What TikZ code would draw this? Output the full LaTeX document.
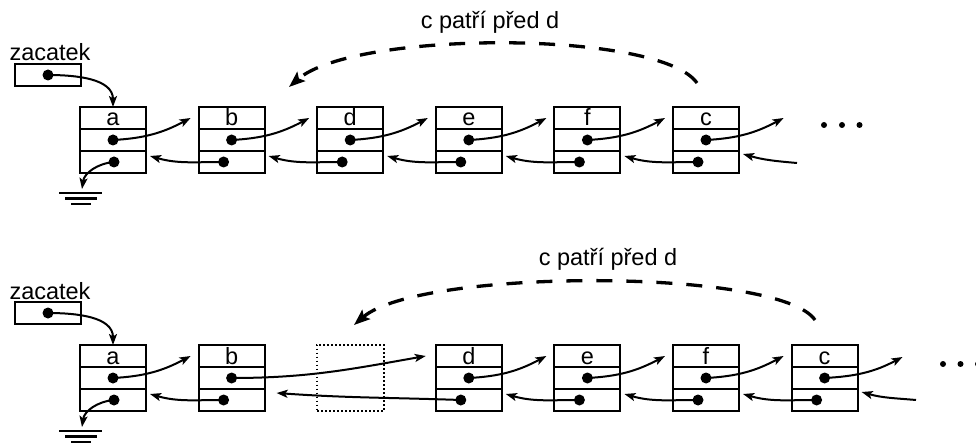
\documentclass[tikz,border=0pt]{standalone}
\usepackage{fontspec}
\setmainfont{Liberation Sans}
\usetikzlibrary{arrows.meta}

\tikzset{
  rule/.style={line width=2.1pt},
  cell/.style={draw, line width=2.1pt, minimum width=66pt, minimum height=66pt,
               inner sep=0pt, outer sep=0pt},
  hole/.style={draw, line width=2pt, dash pattern=on 1.8pt off 2.2pt,
               minimum width=67pt, minimum height=66pt, inner sep=0pt, outer sep=0pt},
  headbox/.style={draw, line width=2.1pt, minimum width=66pt, minimum height=22pt,
               inner sep=0pt, outer sep=0pt},
  lbl/.style={anchor=base, inner sep=0pt, font=\fontsize{23.5}{28}\selectfont},
  ptr/.style={circle, fill=black, minimum size=11pt, inner sep=0pt, outer sep=0pt},
  etc/.style={circle, fill=black, minimum size=6pt, inner sep=0pt},
  link/.style={line width=2pt, -{Stealth[length=11pt,width=8pt,inset=2.5pt]}},
  hint/.style={line width=3.3pt, dash pattern=on 16pt off 14pt,
               -{Stealth[length=16pt,width=12pt,inset=3pt]}},
  earth/.style={line width=2.1pt},
}

% one list element: name, left x, top y, label, x offset of the back pointer
\newcommand\listcell[5]{%
  \node[cell] (#1) at (#2+33,#3+33) {};
  \draw[rule] ([yshift=-22pt]#1.north west) -- ([yshift=-22pt]#1.north east);
  \draw[rule] ([yshift=22pt]#1.south west) -- ([yshift=22pt]#1.south east);
  \node[lbl] (#1-l) at (#2+33,#3+19) {#4};
  \node[ptr] (#1-n) at (#2+33,#3+33) {};
  \node[ptr] (#1-p) at (#2+#5,#3+55) {};
}

% forward link from a cell to the next one, backward link to the previous one
\newcommand\fwd[2]{\draw[link] (#1-n.center) to[out=3,in=208] ([xshift=-8pt,yshift=-11pt]#2.north west);}
\newcommand\bwd[2]{\draw[link] (#1-p.center) to[out=180,in=-16] ([xshift=4pt,yshift=-49pt]#2.north east);}

\begin{document}
\begin{tikzpicture}[x=1pt,y=-1pt]
  \useasboundingbox (0,0) rectangle (976,446);

  % ---------------- upper list ----------------
  \node[lbl] (zt) at (50,61) {zacatek};
  \node[headbox] (zb) at (48,75) {};
  \node[ptr] (zp) at (48,75) {};

  \listcell{ta}{80}{107}{a}{34}
  \listcell{tb}{198.6}{107}{b}{25}
  \listcell{td}{317.2}{107}{d}{25}
  \listcell{te}{435.8}{107}{e}{25}
  \listcell{tf}{554.4}{107}{f}{25}
  \listcell{tc}{673}{107}{c}{25}

  \draw[link] (zp.center) to[out=0,in=90] (ta.north);

  \fwd{ta}{tb} \fwd{tb}{td} \fwd{td}{te} \fwd{te}{tf} \fwd{tf}{tc}
  \coordinate (tnext) at (783.6,118);
  \draw[link] (tc-n.center) to[out=3,in=208] (tnext);

  \bwd{tb}{ta} \bwd{td}{tb} \bwd{te}{td} \bwd{tf}{te} \bwd{tc}{tf}
  \coordinate (tprev) at (797,163);
  \draw[link] (tprev) to[out=175,in=-16] ([xshift=4pt,yshift=-47pt]tc.north east);

  \coordinate (tg) at (82,189);
  \draw[link] (ta-p.center) to[out=185,in=82] (tg);
  \draw[earth] (59,193) -- (102,193);
  \draw[earth] (65,198.5) -- (97,198.5);
  \draw[earth] (71,204) -- (91,204);

  \node[etc] (td1) at (824,125) {};
  \node[etc] (td2) at (842,125) {};
  \node[etc] (td3) at (859.5,125) {};

  \coordinate (th1) at (697,83);
  \coordinate (th2) at (289,87);
  \draw[hint] (th1) .. controls (660,30) and (355,30) .. (th2);
  \node[lbl] (tt) at (490,29) {c patří před d};

  % ---------------- lower list ----------------
  \node[lbl] (zt2) at (50,299) {zacatek};
  \node[headbox] (zb2) at (48,313) {};
  \node[ptr] (zp2) at (48,313) {};

  \listcell{ba}{80}{345}{a}{34}
  \listcell{bb}{198.6}{345}{b}{25}
  \node[hole] (bh) at (350.5,377.5) {};
  \listcell{bd}{435.8}{345}{d}{25}
  \listcell{be}{554.4}{345}{e}{25}
  \listcell{bf}{673}{345}{f}{25}
  \listcell{bc}{791.6}{345}{c}{25}

  \draw[link] (zp2.center) to[out=0,in=90] (ba.north);

  \fwd{ba}{bb}
  \draw[link] (bb-n.center) to[out=0,in=190] ([xshift=-10pt,yshift=-11pt]bd.north west);
  \fwd{bd}{be} \fwd{be}{bf} \fwd{bf}{bc}
  \coordinate (bnext) at (902.5,357);
  \draw[link] (bc-n.center) to[out=3,in=208] (bnext);

  \bwd{bb}{ba}
  \draw[link] (bd-p.center) to[out=178,in=-4] ([xshift=12pt,yshift=-48pt]bb.north east);
  \bwd{be}{bd} \bwd{bf}{be} \bwd{bc}{bf}
  \coordinate (bprev) at (916,400);
  \draw[link] (bprev) to[out=175,in=-16] ([xshift=4pt,yshift=-47pt]bc.north east);

  \coordinate (bg) at (82,427);
  \draw[link] (ba-p.center) to[out=185,in=82] (bg);
  \draw[earth] (59,431) -- (102,431);
  \draw[earth] (65,436.5) -- (97,436.5);
  \draw[earth] (71,442) -- (91,442);

  \node[etc] (bd1) at (943,364) {};
  \node[etc] (bd2) at (960.5,364) {};
  \node[etc] (bd3) at (978,364) {};

  \coordinate (bh1) at (815,320);
  \coordinate (bh2) at (354,325);
  \draw[hint] (bh1) .. controls (780,268) and (420,268) .. (bh2);
  \node[lbl] (bt) at (608,265) {c patří před d};
\end{tikzpicture}
\end{document}
